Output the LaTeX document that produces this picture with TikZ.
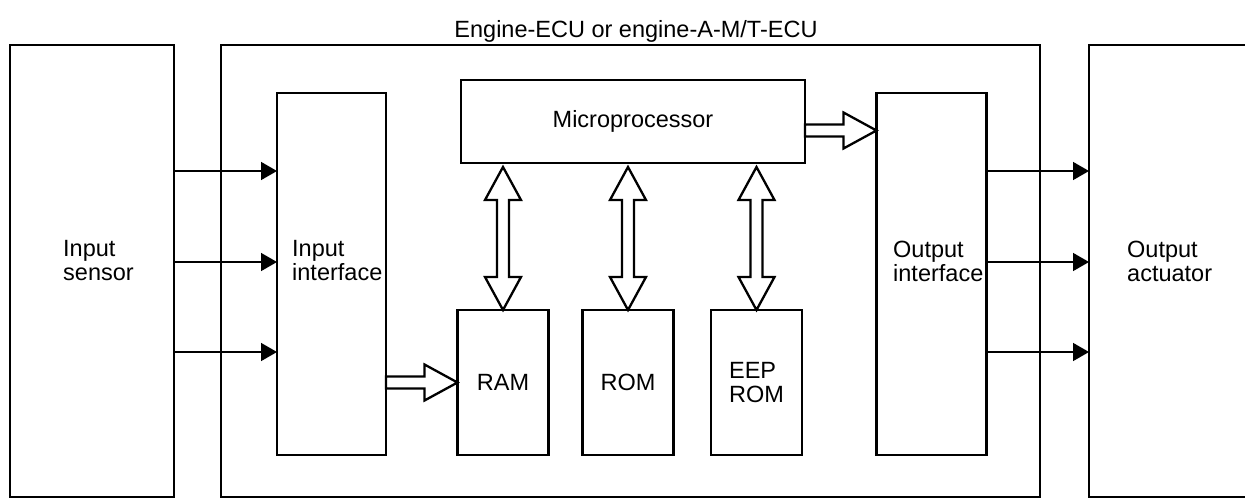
\documentclass[tikz,border=0pt]{standalone}
\usepackage{fontspec}
\setmainfont{Liberation Sans}
\usepackage{tikz}
\usetikzlibrary{arrows.meta,positioning,calc}
\newcommand{\ecufont}{\fontsize{23.5}{24}\selectfont}
\tikzset{
  unitbox/.style={draw=black,line width=2.5pt,fill=white,outer sep=0pt,inner sep=0pt,
                  align=center,font=\ecufont},
  boxlabel/.style={font=\ecufont,align=left,inner sep=0pt},
  sigflow/.style={-{Triangle[length=16pt,width=18pt]},line width=1.5pt,draw=black},
  busflow/.style={draw=black,line width=2.3pt,fill=white,line join=miter,
    to path={($(\tikztotarget)!33pt!(\tikztostart)$) coordinate (hd)
      ($(\tikztostart)!6pt!90:(\tikztotarget)$)
      -- ($(hd)!6pt!90:(\tikztotarget)$) -- ($(hd)!18pt!90:(\tikztotarget)$)
      -- (\tikztotarget)
      -- ($(hd)!18pt!-90:(\tikztotarget)$) -- ($(hd)!6pt!-90:(\tikztotarget)$)
      -- ($(\tikztostart)!6pt!-90:(\tikztotarget)$) -- cycle}},
  busboth/.style={draw=black,line width=2.3pt,fill=white,line join=miter,
    to path={($(\tikztotarget)!33pt!(\tikztostart)$) coordinate (hd)
      ($(\tikztostart)!33pt!(\tikztotarget)$) coordinate (tl)
      (\tikztostart)
      -- ($(tl)!18pt!90:(\tikztotarget)$) -- ($(tl)!6pt!90:(\tikztotarget)$)
      -- ($(hd)!6pt!90:(\tikztotarget)$) -- ($(hd)!18pt!90:(\tikztotarget)$)
      -- (\tikztotarget)
      -- ($(hd)!18pt!-90:(\tikztotarget)$) -- ($(hd)!6pt!-90:(\tikztotarget)$)
      -- ($(tl)!6pt!-90:(\tikztotarget)$) -- ($(tl)!18pt!-90:(\tikztotarget)$)
      -- cycle}}
}
\begin{document}
\begin{tikzpicture}[x=1pt,y=-1pt]
    \useasboundingbox[fill=white] (0,0) rectangle (1245,498);

    % outer units
    \node[unitbox,minimum width=164pt,minimum height=452pt] (sensor) at (92,271) {};
    \node[unitbox,minimum width=819pt,minimum height=452pt] (ecu) at (630.5,271) {};
    \node[unitbox,minimum width=181pt,minimum height=452pt] (actuator) at (1179.5,271) {};
    \node[boxlabel,anchor=base] (ecu-title) at (636,37) {Engine-ECU or engine-A-M/T-ECU};

    % inside the ECU
    \node[unitbox,minimum width=109pt,minimum height=362pt] (inif) at (331.5,274) {};
    \node[unitbox,minimum width=110pt,minimum height=362pt] (outif) at (931.5,274) {};
    \node[unitbox,minimum width=344pt,minimum height=83pt] (micro) at (633,121.5) {Microprocessor};
    \node[unitbox,minimum width=91pt,minimum height=145pt] (ram) at (503,382.5) {RAM};
    \node[unitbox,minimum width=91pt,minimum height=145pt] (rom) at (628,382.5) {ROM};
    \node[unitbox,minimum width=91pt,minimum height=145pt,align=left] (eep) at (756.5,382.5) {EEP\\ROM};

    \node[boxlabel,anchor=west] (sensor-txt) at (63,261) {Input\\sensor};
    \node[boxlabel,anchor=west] (inif-txt) at (292,261) {Input\\interface};
    \node[boxlabel,anchor=west] (outif-txt) at (893,261) {Output\\interface};
    \node[boxlabel,anchor=west] (actuator-txt) at (1127,261) {Output\\actuator};

    % signal lines
    \foreach \yy in {171,262,352} {
      \draw[sigflow] (sensor.east |- 0,\yy) -- (inif.west |- 0,\yy);
      \draw[sigflow] (outif.east |- 0,\yy) -- (actuator.west |- 0,\yy);
    }

    % buses
    \coordinate (mp-out) at ([yshift=-9pt]micro.east);
    \draw[busflow] (inif.east |- ram.west) to (ram.west);
    \draw[busflow] (mp-out) to (mp-out -| outif.west);
    \foreach \mem in {ram,rom,eep} {
      \coordinate (\mem-top) at ([yshift=-4pt]\mem.north |- micro.south);
      \draw[busboth] (\mem-top) to (\mem.north);
    }
  \end{tikzpicture}
\end{document}
